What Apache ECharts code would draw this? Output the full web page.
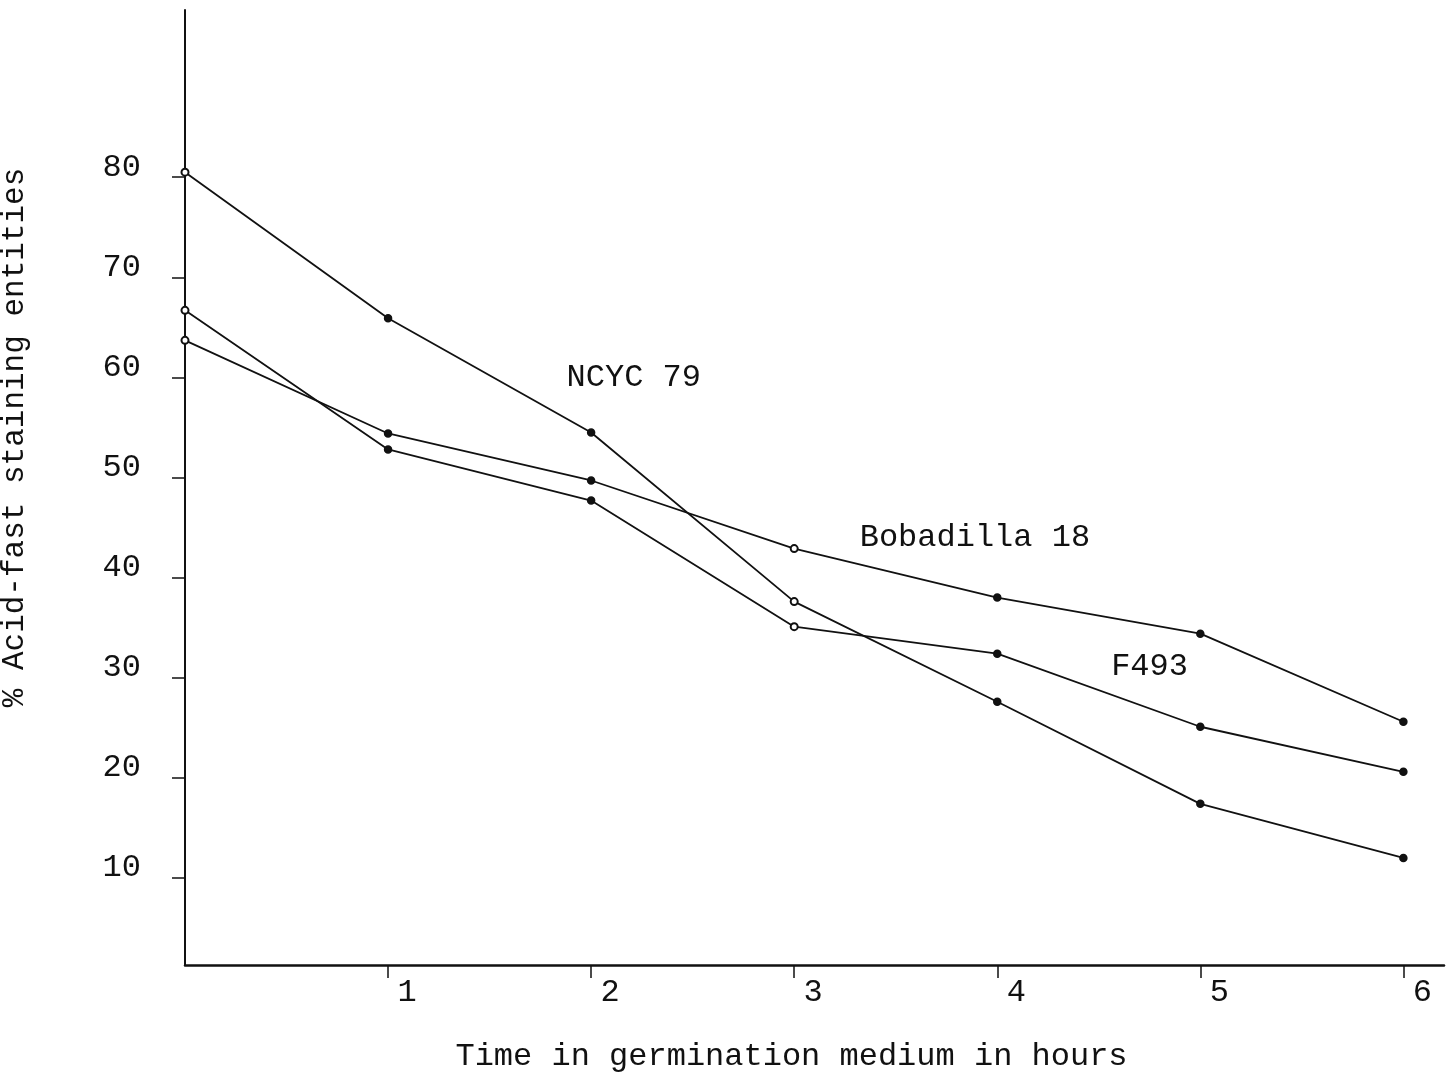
<!DOCTYPE html>
<html>
<head>
<meta charset="utf-8">
<script src="https://cdn.jsdelivr.net/npm/echarts@6/dist/echarts.min.js"></script>
<style>
  html, body { margin: 0; padding: 0; background: #ffffff; }
  #chart { width: 1456px; height: 1075px; }
</style>
</head>
<body>
<div id="chart"></div>
<script>
// Time in germination medium (hours)
const hours = [0, 1, 2, 3, 4, 5, 6];
// % acid-fast staining entities
const ncyc79 = [80.5, 65.9, 54.5, 37.6, 27.6, 17.4, 12.0];
const bobadilla18 = [63.7, 54.4, 49.7, 42.9, 38.0, 34.4, 25.6];
const f493 = [66.7, 52.8, 47.7, 35.1, 32.4, 25.1, 20.6];
// Tick labels
const xTicks = [1, 2, 3, 4, 5, 6];
const yTicks = [10, 20, 30, 40, 50, 60, 70, 80];

const FONT = '"Liberation Mono", "DejaVu Sans Mono", monospace';
const INK = '#111111';

function pairs(vals) { return hours.map((h, i) => [h, vals[i]]); }

function lineSeries(name, vals, labelCoord) {
  return {
    name: name,
    type: 'line',
    data: pairs(vals),
    symbol: function (value, params) {
      return (params.dataIndex === 0 || params.dataIndex === 3) ? 'emptyCircle' : 'circle';
    },
    symbolSize: 7,
    lineStyle: { color: INK, width: 1.8 },
    itemStyle: { color: INK, borderColor: INK, borderWidth: 1.5 },
    emphasis: { disabled: true },
    markPoint: {
      symbol: 'circle',
      symbolSize: 1,
      itemStyle: { color: 'rgba(0,0,0,0)' },
      label: {
        show: true, position: 'inside', formatter: '{b}',
        fontFamily: FONT, fontSize: 32, color: INK
      },
      data: [{ name: name, coord: labelCoord }]
    }
  };
}

const chart = echarts.init(document.getElementById('chart'), null, { renderer: 'canvas' });
chart.setOption({
  animation: false,
  backgroundColor: '#ffffff',
  grid: { left: 185, top: 10, width: 1259, height: 955, outerBoundsMode: 'none' },
  xAxis: {
    type: 'value',
    min: 0, max: 6.2,
    name: 'Time in germination medium in hours',
    nameLocation: 'middle',
    nameGap: 76,
    nameTextStyle: { fontFamily: FONT, fontSize: 32, color: INK, padding: [0, 46, 0, 0] },
    axisLine: { onZero: false, lineStyle: { color: INK, width: 2.5 } },
    axisTick: { show: true, customValues: xTicks, length: 13, lineStyle: { color: INK, width: 1.5 } },
    axisLabel: {
      customValues: xTicks, margin: 12,
      fontFamily: FONT, fontSize: 32, color: INK,
      padding: [0, 0, 0, 38]
    },
    splitLine: { show: false }
  },
  yAxis: {
    type: 'value',
    min: 1.3, max: 96.7,
    name: '% Acid-fast staining entities',
    nameLocation: 'middle',
    nameRotate: 90,
    nameGap: 155,
    nameTextStyle: { fontFamily: FONT, fontSize: 31, color: INK, padding: [0, 0, 0, 100] },
    axisLine: { onZero: false, lineStyle: { color: INK, width: 2 } },
    axisTick: { show: true, customValues: yTicks, length: 13, lineStyle: { color: INK, width: 1.5 } },
    axisLabel: {
      customValues: yTicks, margin: 44,
      fontFamily: FONT, fontSize: 32, color: INK,
      verticalAlign: 'bottom', lineHeight: 20
    },
    splitLine: { show: false }
  },
  series: [
    lineSeries('NCYC 79', ncyc79, [2.21, 60.0]),
    lineSeries('Bobadilla 18', bobadilla18, [3.89, 44.0]),
    lineSeries('F493', f493, [4.75, 31.1])
  ]
});
</script>
</body>
</html>
